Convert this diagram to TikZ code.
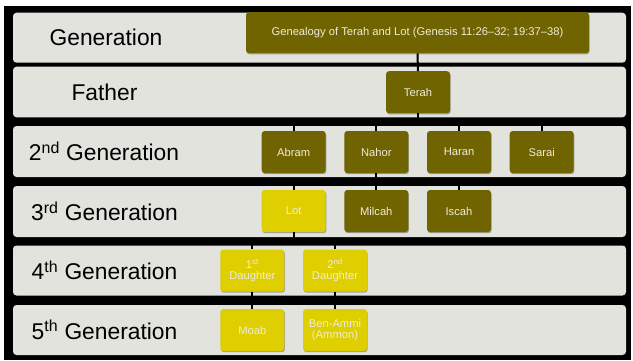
\documentclass[tikz,border=0pt]{standalone}
\usepackage{fontspec}
\setmainfont{Liberation Sans}
\usetikzlibrary{calc,shadows}
\definecolor{panelgray}{RGB}{225,227,220}
\definecolor{darkolive}{RGB}{112,100,0}
\definecolor{lotyellow}{RGB}{224,207,0}
\definecolor{boxtext}{RGB}{238,236,218}
\begin{document}
\begin{tikzpicture}[x=1pt,y=-1pt,
  panel/.style={fill=panelgray, rounded corners=3.5pt},
  lab/.style={font=\fontsize{22.8}{26}\selectfont, text=black, inner sep=0pt},
  person/.style={fill=darkolive, rounded corners=3pt, minimum width=64pt,
    minimum height=42pt, inner sep=0pt, text=boxtext,
    font=\fontsize{11.2}{10.7}\selectfont, align=center,
    drop shadow={shadow xshift=0.6pt, shadow yshift=-1.2pt, opacity=0.3, fill=black}},
  yperson/.style={person, fill=lotyellow},
  link/.style={draw=black, line width=2pt},
  elbow/.style={to path={|- ($(\tikztostart)!0.5!(\tikztotarget)$) -| (\tikztotarget)}}
]
\fill[white] (0,0) rectangle (633,360);
\useasboundingbox (0,0) rectangle (633,360);
\fill[black] (4,6) rectangle (631,360);
% panels
\fill[panel] (13,12.7) rectangle (626,62.7);
\fill[panel] (13,66.7) rectangle (626,117.3);
\fill[panel] (13,126) rectangle (626,177);
\fill[panel] (13,186) rectangle (626,237);
\fill[panel] (13,245.5) rectangle (626,295.5);
\fill[panel] (13,305) rectangle (626,355);
% row labels
\node[lab] (l0) at (106,37.7) {Generation};
\node[lab] (l1) at (104.5,92) {Father};
\node[lab] (l2) at (104,151.5) {2\textsuperscript{nd} Generation};
\node[lab] (l3) at (104.5,211.5) {3\textsuperscript{rd} Generation};
\node[lab] (l4) at (104.5,270.5) {4\textsuperscript{th} Generation};
\node[lab] (l5) at (104.5,330) {5\textsuperscript{th} Generation};
% people
\node[person, minimum width=343pt, minimum height=41pt] (title) at (417.5,32.7)
  {Genealogy of Terah and Lot (Genesis 11:26–32; 19:37–38)};
\node[person] (terah) at (418,92.2) {Terah};
\node[person] (abram) at (293.7,152) {Abram};
\node[person] (nahor) at (376.3,152) {Nahor};
\node[person] (haran) at (459,152) {Haran};
\node[person] (sarai) at (541.7,152) {Sarai};
\node[yperson] (lot) at (293.7,211) {Lot};
\node[person] (milcah) at (376.3,211) {Milcah};
\node[person] (iscah) at (459,211) {Iscah};
\node[yperson] (d1) at (252.3,270.5) {1\textsuperscript{st}\\Daughter};
\node[yperson] (d2) at (335,270.5) {2\textsuperscript{nd}\\Daughter};
\node[yperson] (moab) at (252.3,330) {Moab};
\node[yperson] (ammi) at (335,330) {Ben-Ammi\\(Ammon)};
% connectors
\draw[link] (title.south) -- (terah.north);
\foreach \c in {abram,nahor,haran,sarai}
  \draw[link] (terah.south) to[elbow] (\c.north);
\foreach \c in {lot,milcah,iscah}
  \draw[link] (nahor.south) to[elbow] (\c.north);
\foreach \c in {d1,d2}
  \draw[link] (lot.south) to[elbow] (\c.north);
\draw[link] (d1.south) -- (moab.north);
\draw[link] (d2.south) -- (ammi.north);
\end{tikzpicture}
\end{document}
